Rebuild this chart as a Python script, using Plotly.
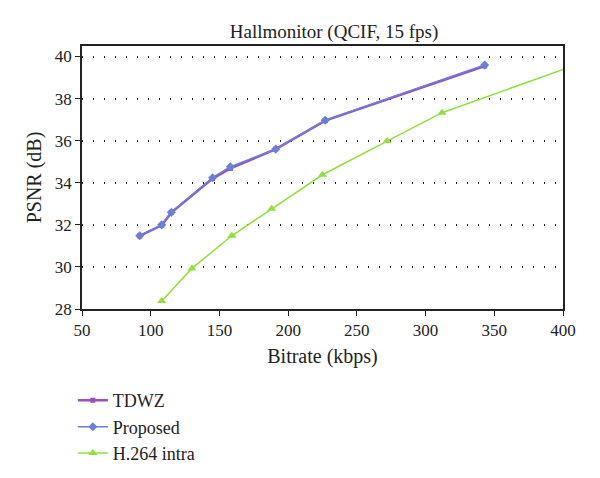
import plotly.graph_objects as go

title = "Hallmonitor (QCIF, 15 fps)"
x_label = "Bitrate (kbps)"
y_label = "PSNR (dB)"

tdwz_rate = [92, 108, 115, 145, 158, 191, 227, 343]
tdwz_psnr = [31.47, 31.98, 32.58, 34.2, 34.68, 35.6, 36.95, 39.55]

prop_rate = [92, 108, 115, 145, 158, 191, 227, 343]
prop_psnr = [31.48, 32.0, 32.6, 34.24, 34.76, 35.6, 36.97, 39.6]

h264_rate = [108, 130, 159, 188, 225, 272, 312, 405]
h264_psnr = [28.38, 29.93, 31.48, 32.76, 34.38, 35.98, 37.33, 39.5]

font_family = "Liberation Serif, DejaVu Serif, serif"

# The page body adds an 8px margin, so the figure is sized 592x470.
W, H = 592, 470

fig = go.Figure()
fig.add_trace(go.Scatter(x=tdwz_rate, y=tdwz_psnr, name="TDWZ", mode="lines+markers",
                         line=dict(color="#9a4fc0", width=2.5),
                         marker=dict(symbol="square", size=5, color="#9a4fc0")))
fig.add_trace(go.Scatter(x=prop_rate, y=prop_psnr, name="Proposed", mode="lines+markers",
                         line=dict(color="#6a7fd8", width=1.5),
                         marker=dict(symbol="diamond", size=7, color="#6a7fd8")))
fig.add_trace(go.Scatter(x=h264_rate, y=h264_psnr, name="H.264 intra", mode="lines+markers",
                         line=dict(color="#8fe03a", width=1.5),
                         marker=dict(symbol="triangle-up", size=8, color="#8fe03a")))

fig.update_layout(
    width=W, height=H,
    paper_bgcolor="white", plot_bgcolor="white",
    margin=dict(l=74, r=37, t=38, b=169),
    font=dict(family=font_family, size=17, color="#222"),
    title=dict(text=title, x=326 / W, xanchor="center", y=1 - 23 / H, yanchor="middle",
               font=dict(size=19, family=font_family)),
    xaxis=dict(range=[50, 400], dtick=50, tick0=50, showgrid=False, zeroline=False,
               showline=True, linecolor="#222", linewidth=1.5, mirror=True,
               ticks="outside", ticklen=5, tickcolor="#222", automargin=True,
               title=dict(text=x_label, font=dict(size=20), standoff=10)),
    yaxis=dict(range=[28, 40.5], tickvals=[28, 30, 32, 34, 36, 38, 40], showgrid=True,
               gridcolor="#222", griddash="1px,10px", gridwidth=1.5, zeroline=False,
               showline=True, linecolor="#222", linewidth=1.5, mirror=True,
               ticks="outside", ticklen=5, tickcolor="#222", automargin=True,
               title=dict(text=y_label, font=dict(size=20), standoff=8)),
    legend=dict(xref="paper", yref="container", x=-0.019, y=0.204,
                xanchor="left", yanchor="top",
                font=dict(size=18), tracegroupgap=0, itemwidth=30,
                bgcolor="rgba(0,0,0,0)"),
)

fig.write_html("out.html")
